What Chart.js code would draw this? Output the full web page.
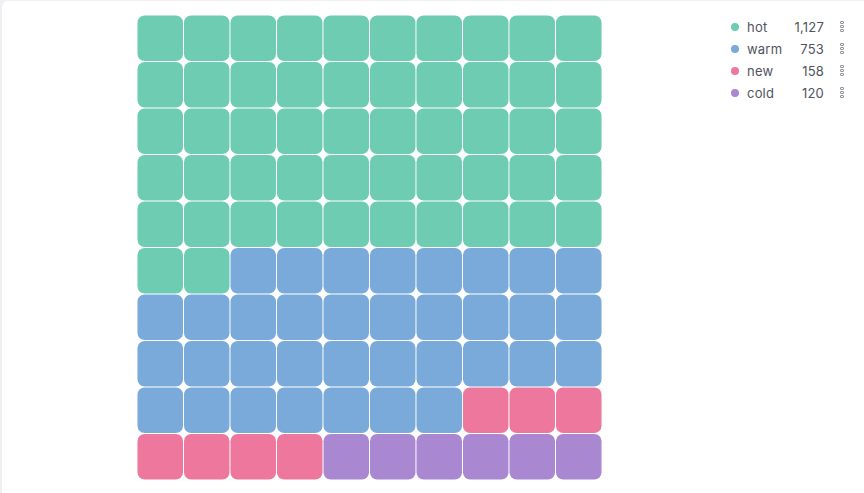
<!DOCTYPE html>
<html>
<head>
<meta charset="utf-8">
<script src="https://cdn.jsdelivr.net/npm/chart.js@4/dist/chart.umd.min.js"></script>
<style>
  html, body { margin: 0; padding: 0; width: 864px; height: 493px; overflow: hidden; background: #eef0f4; font-family: Inter, "Noto Sans", sans-serif; }
  #card { position: absolute; left: 2px; top: 1px; width: 880px; height: 500px; background: #fff; border-radius: 6px; }
  #wrap { position: absolute; left: 137px; top: 15px; width: 465px; height: 465px; }
  #legend { position: absolute; left: 727px; top: 16px; width: 130px; }
  .row { position: relative; height: 22px; font-size: 13px; color: #50545e; letter-spacing: 0.2px; }
  .dot { position: absolute; left: 4px; top: 7px; width: 8px; height: 8px; border-radius: 50%; }
  .lab { position: absolute; left: 20px; top: 2px; line-height: 18px; }
  .val { position: absolute; right: 33px; top: 2px; line-height: 18px; text-align: right; }
  .keb { position: absolute; left: 113px; top: 5px; width: 4px; }
  .keb div { width: 2px; height: 1px; border: 1px solid #8e939c; border-radius: 1px; margin-bottom: 1px; }
</style>
</head>
<body>
<div id="card"></div>
<div id="wrap"><canvas id="c" width="465" height="465"></canvas></div>
<div id="legend"></div>
<script>
const categories = ['hot', 'warm', 'new', 'cold'];
const values = [1127, 753, 158, 120];
const colors = ['#6DCCB1', '#79AAD9', '#EE789D', '#A987D1'];
const gridSize = 10;
const columnLabels = ['0','1','2','3','4','5','6','7','8','9'];

// allocate 100 cells by largest remainder
const total = values.reduce((a, b) => a + b, 0);
const cellsTotal = gridSize * gridSize;
const exact = values.map(v => v / total * cellsTotal);
const counts = exact.map(Math.floor);
let left = cellsTotal - counts.reduce((a, b) => a + b, 0);
exact.map((e, i) => [e - Math.floor(e), i]).sort((a, b) => b[0] - a[0]).slice(0, left).forEach(([, i]) => counts[i]++);

let idx = 0;
const datasets = categories.map((name, k) => {
  const data = [];
  for (let n = 0; n < counts[k]; n++, idx++) {
    const row = Math.floor(idx / gridSize), col = idx % gridSize;
    data.push({ x: columnLabels[col], y: [row, row + 1] });
  }
  return {
    label: name, data,
    backgroundColor: colors[k],
    borderColor: '#ffffff',
    borderWidth: 0.8,
    borderSkipped: false,
    borderRadius: 8,
    grouped: false,
    barPercentage: 1,
    categoryPercentage: 1
  };
});

new Chart(document.getElementById('c'), {
  type: 'bar',
  data: { labels: columnLabels, datasets },
  options: {
    responsive: false,
    animation: false,
    devicePixelRatio: 1,
    layout: { padding: 0 },
    plugins: { legend: { display: false }, tooltip: { enabled: false } },
    scales: {
      x: { type: 'category', display: false, offset: true },
      y: { type: 'linear', display: false, min: 0, max: gridSize, reverse: true }
    }
  }
});

const legend = document.getElementById('legend');
categories.forEach((name, k) => {
  const r = document.createElement('div');
  r.className = 'row';
  r.innerHTML = '<span class="dot" style="background:' + colors[k] + '"></span>' +
    '<span class="lab">' + name + '</span>' +
    '<span class="val">' + values[k].toLocaleString('en-US') + '</span>' +
    '<span class="keb"><div></div><div></div><div></div></span>';
  legend.appendChild(r);
});
</script>
</body>
</html>
